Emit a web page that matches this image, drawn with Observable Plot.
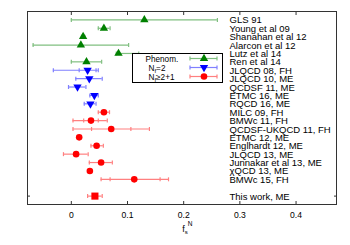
<!DOCTYPE html>
<html>
<head>
<meta charset="utf-8">
<script src="https://cdn.jsdelivr.net/npm/d3@7"></script>
<script src="https://cdn.jsdelivr.net/npm/@observablehq/plot@0.6"></script>
<style>
  html, body { margin: 0; padding: 0; background: #fff; }
  #chart { position: relative; width: 350px; height: 245px; }
</style>
</head>
<body>
<div id="chart"></div>
<script>
const labels = ["GLS 91", "Young et al 09", "Shanahan et al 12", "Alarcon et al 12", "Lutz et al 14", "Ren et al 14",
  "JLQCD 08, FH", "JLQCD 10, ME", "QCDSF 11, ME", "ETMC 16, ME", "RQCD 16, ME",
  "MILC 09, FH", "BMWc 11, FH", "QCDSF-UKQCD 11, FH", "ETMC 12, ME", "Englhardt 12, ME", "JLQCD 13, ME",
  "Junnakar et al 13, ME", "χQCD 13, ME", "BMWc 15, FH", "", "This work, ME"];
const groups = ["phen","phen","phen","phen","phen","phen",
  "nf2","nf2","nf2","nf2","nf2",
  "nf21","nf21","nf21","nf21","nf21","nf21","nf21","nf21","nf21", null, "this"];
const values = [0.130, 0.058, 0.021, 0.017, 0.084, 0.027,
  0.029, 0.032, 0.011, 0.041, 0.034,
  0.058, 0.035, 0.071, 0.014, 0.045, 0.0085, 0.053, 0.033, 0.112, null, 0.042];
const totLo = [0.000, 0.048, 0.018, -0.068, 0.080, 0.000,
  -0.032, 0.008, -0.005, 0.033, 0.023,
  0.048, 0.003, 0.003, 0.012, 0.035, -0.014, 0.032, 0.030, 0.053, null, 0.029];
const totHi = [0.260, 0.069, 0.024, 0.102, 0.120, 0.054,
  0.048, 0.055, 0.026, 0.048, 0.044,
  0.068, 0.064, 0.139, 0.016, 0.057, 0.030, 0.073, 0.036, 0.173, null, 0.055];
const statLo = [null,null,null,null,null,null, 0.014,null,null,null,null, null,0.022,0.036,null,null,null,null,null,0.069,null,null];
const statHi = [null,null,null,null,null,null, 0.044,null,null,null,null, null,0.048,0.106,null,null,null,null,null,0.158,null,null];
const xTicks = [0, 0.1, 0.2, 0.3, 0.4];

const markColor = {phen: "#008000", nf2: "#0000ff", nf21: "#ff0000", this: "#ff0000"};
const barColor = {phen: "#80bf80", nf2: "#8080ff", nf21: "#ff8080", this: "#ff8080"};

const rows = labels.map((label, i) => ({
  i, label, g: groups[i], v: values[i], lo: totLo[i], hi: totHi[i], slo: statLo[i], shi: statHi[i]
}));
const pts = rows.filter(d => d.v != null);
const stats = rows.filter(d => d.slo != null);

const vline = { draw(ctx) { ctx.moveTo(0, -2); ctx.lineTo(0, 2); } };
const triDown = { draw(ctx, size) {
  const y = -Math.sqrt(size / (Math.sqrt(3) * 3));
  ctx.moveTo(0, -y * 2); ctx.lineTo(-Math.sqrt(3) * y, y); ctx.lineTo(Math.sqrt(3) * y, y); ctx.closePath();
} };

const capsOf = (arr, loKey, hiKey) => arr.flatMap(d => [{...d, c: d[loKey]}, {...d, c: d[hiKey]}]);

const font = "'Liberation Sans', Arial, Helvetica, sans-serif";

const plot = Plot.plot({
  width: 350, height: 245,
  marginLeft: 27, marginRight: 14, marginTop: 11, marginBottom: 41,
  style: { fontFamily: font, fontSize: "8.6px", color: "#000", background: "#fff" },
  x: { domain: [-0.078, 0.472] },
  y: { domain: [-1, 22], reverse: true, axis: null },
  marks: [
    Plot.ruleY(pts, { y: "i", x1: "lo", x2: "hi", stroke: d => barColor[d.g], strokeWidth: 1.2 }),
    Plot.dot(capsOf(pts, "lo", "hi"), { x: "c", y: "i", symbol: vline, stroke: d => barColor[d.g], strokeWidth: 1.2, r: 2 }),
    Plot.dot(capsOf(stats, "slo", "shi"), { x: "c", y: "i", symbol: vline, stroke: d => barColor[d.g], strokeWidth: 1.2, r: 2 }),
    Plot.dot(pts.filter(d => d.g === "phen"), { x: "v", y: "i", symbol: "triangle", fill: markColor.phen, r: 3.1 }),
    Plot.dot(pts.filter(d => d.g === "nf2"), { x: "v", y: "i", symbol: triDown, fill: markColor.nf2, r: 3.1 }),
    Plot.dot(pts.filter(d => d.g === "nf21"), { x: "v", y: "i", symbol: "circle", fill: markColor.nf21, r: 3.3 }),
    Plot.dot(pts.filter(d => d.g === "this"), { x: "v", y: "i", symbol: "square", fill: markColor.this, r: 4 }),
    Plot.text(rows, { frameAnchor: "right", y: "i", text: "label", textAnchor: "start", dx: -107, dy: 0.5, fontSize: 9.5, fill: "#000" }),
    Plot.axisX({ anchor: "bottom", ticks: xTicks, tickSize: -3, tickPadding: 10, tickFormat: d => d === 0 ? "0" : String(d), label: null, stroke: "#333" }),
    Plot.axisX({ anchor: "top", ticks: xTicks, tickSize: -3, tickFormat: () => "", label: null, stroke: "#333" }),
    Plot.axisY({ anchor: "left", ticks: [21], tickSize: -3, tickFormat: () => "", label: null, stroke: "#333" }),
    Plot.axisY({ anchor: "right", ticks: [21], tickSize: -3, tickFormat: () => "", label: null, stroke: "#333" }),
    Plot.frame({ stroke: "#333" })
  ]
});

document.getElementById("chart").appendChild(plot);

// legend and axis label drawn as text into the SVG
const svg = d3.select(plot);
const xs = plot.scale("x");
const lab = svg.append("text").attr("x", xs.apply(0.2) - 1).attr("y", 232).attr("text-anchor", "start")
  .style("font-family", font).style("font-size", "9px").attr("fill", "#000");
lab.append("tspan").text("f");
lab.append("tspan").attr("font-size", "6px").attr("dy", 2).text("s");
lab.append("tspan").attr("font-size", "6.5px").attr("dy", -8.5).text("N");

const lg = svg.append("g").attr("text-anchor", "start").style("font-family", font).style("font-size", "8.2px");
lg.append("rect").attr("x", 132.5).attr("y", 53.5).attr("width", 90).attr("height", 29)
  .attr("fill", "#fff").attr("stroke", "#000").attr("stroke-width", 1);
const legendItems = [
  { g: "phen", parts: [["Phenom.", null]] },
  { g: "nf2", parts: [["N", null], ["f", "sub"], ["=2", "back"]] },
  { g: "nf21", parts: [["N", null], ["f", "sub"], ["≥2+1", "back"]] }
];
legendItems.forEach((it, k) => {
  const cy = 58.5 + k * 9;
  const t = lg.append("text").attr("x", it.g === "phen" ? 145.5 : 148.5).attr("y", cy + 3).attr("fill", "#000");
  it.parts.forEach(([s, kind]) => {
    if (kind === "sub") t.append("tspan").attr("font-size", "6px").attr("dy", 2).text(s);
    else if (kind === "back") t.append("tspan").attr("dy", -2).text(s);
    else t.append("tspan").text(s);
  });
  lg.append("line").attr("x1", 190).attr("x2", 217).attr("y1", cy).attr("y2", cy)
    .attr("stroke", barColor[it.g]).attr("stroke-width", 1.2);
  [190, 217].forEach(x => lg.append("line").attr("x1", x).attr("x2", x).attr("y1", cy - 2).attr("y2", cy + 2)
    .attr("stroke", barColor[it.g]).attr("stroke-width", 1.2));
  const sym = it.g === "phen" ? d3.symbol(d3.symbolTriangle, Math.PI * 3.1 * 3.1)
    : it.g === "nf2" ? d3.symbol(triDown, Math.PI * 3.1 * 3.1)
    : d3.symbol(d3.symbolCircle, Math.PI * 3.3 * 3.3);
  lg.append("path").attr("d", sym()).attr("transform", `translate(204,${cy})`).attr("fill", markColor[it.g]);
});
</script>
</body>
</html>
